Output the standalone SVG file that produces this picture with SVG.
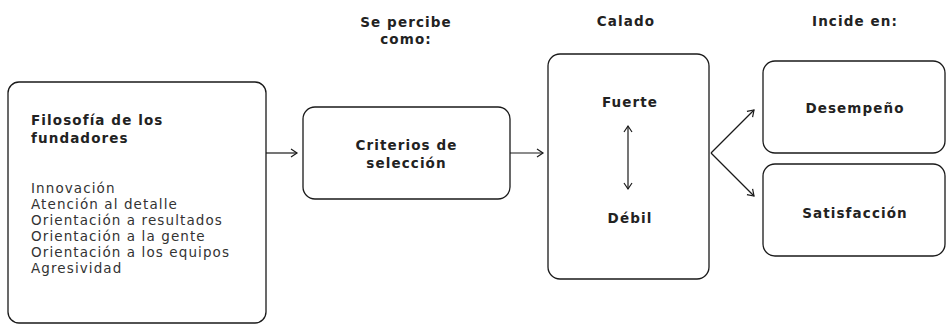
<svg xmlns="http://www.w3.org/2000/svg" width="946" height="324" viewBox="0 0 946 324">
<defs>
<style>
.box{fill:#fff;stroke:#1a1a1a;stroke-width:1.3}
.h{font-family:"DejaVu Sans","Open Sans",sans-serif;font-weight:700;font-size:13.5px;letter-spacing:1.1px;fill:#222}
.t{font-family:"DejaVu Sans","Open Sans",sans-serif;font-weight:400;font-size:13.5px;letter-spacing:1.1px;fill:#333}
.c{fill:none;stroke:#1a1a1a;stroke-width:1.2}
</style>
<marker id="ah" markerUnits="userSpaceOnUse" markerWidth="12" markerHeight="12" refX="7" refY="5" orient="auto-start-reverse" viewBox="0 0 12 10">
<path d="M1,1 L7,5 L1,9" fill="none" stroke="#1a1a1a" stroke-width="1.2"/>
</marker>
</defs>
<rect width="946" height="324" fill="#fff"/>
<g id="headers">
<text class="h" x="406" y="27" text-anchor="middle">Se percibe</text>
<text class="h" x="406" y="44" text-anchor="middle">como:</text>
<text class="h" x="626" y="26" text-anchor="middle">Calado</text>
<text class="h" x="855" y="26" text-anchor="middle">Incide en:</text>
</g>
<g id="n-filosofia">
<rect class="box" x="8" y="82" width="258" height="241" rx="11"/>
<text class="h" x="31" y="125">Filosofía de los</text>
<text class="h" x="31" y="143">fundadores</text>
<text class="t" x="31" y="193">Innovación</text>
<text class="t" x="31" y="209">Atención al detalle</text>
<text class="t" x="31" y="225">Orientación a resultados</text>
<text class="t" x="31" y="241">Orientación a la gente</text>
<text class="t" x="31" y="257">Orientación a los equipos</text>
<text class="t" x="31" y="273">Agresividad</text>
</g>
<g id="n-criterios">
<rect class="box" x="303" y="107" width="207" height="92" rx="12"/>
<text class="h" x="406.5" y="150" text-anchor="middle">Criterios de</text>
<text class="h" x="406.5" y="168" text-anchor="middle">selección</text>
</g>
<g id="n-calado">
<rect class="box" x="548" y="54" width="161" height="225" rx="12"/>
<text class="h" x="630" y="107" text-anchor="middle">Fuerte</text>
<text class="h" x="630" y="223" text-anchor="middle">Débil</text>
</g>
<g id="n-desempeno">
<rect class="box" x="763" y="61" width="182" height="92" rx="12"/>
<text class="h" x="855" y="113" text-anchor="middle">Desempeño</text>
</g>
<g id="n-satisfaccion">
<rect class="box" x="763" y="164" width="182" height="92" rx="12"/>
<text class="h" x="855" y="218" text-anchor="middle">Satisfacción</text>
</g>
<g id="connectors">
<line class="c" x1="266" y1="153" x2="297" y2="153" marker-end="url(#ah)"/>
<line class="c" x1="510" y1="153" x2="543" y2="153" marker-end="url(#ah)"/>
<line class="c" x1="628" y1="126" x2="628" y2="189" marker-start="url(#ah)" marker-end="url(#ah)"/>
<line class="c" x1="711" y1="153" x2="754" y2="110" marker-end="url(#ah)"/>
<line class="c" x1="711" y1="153" x2="754" y2="196" marker-end="url(#ah)"/>
</g>
</svg>
